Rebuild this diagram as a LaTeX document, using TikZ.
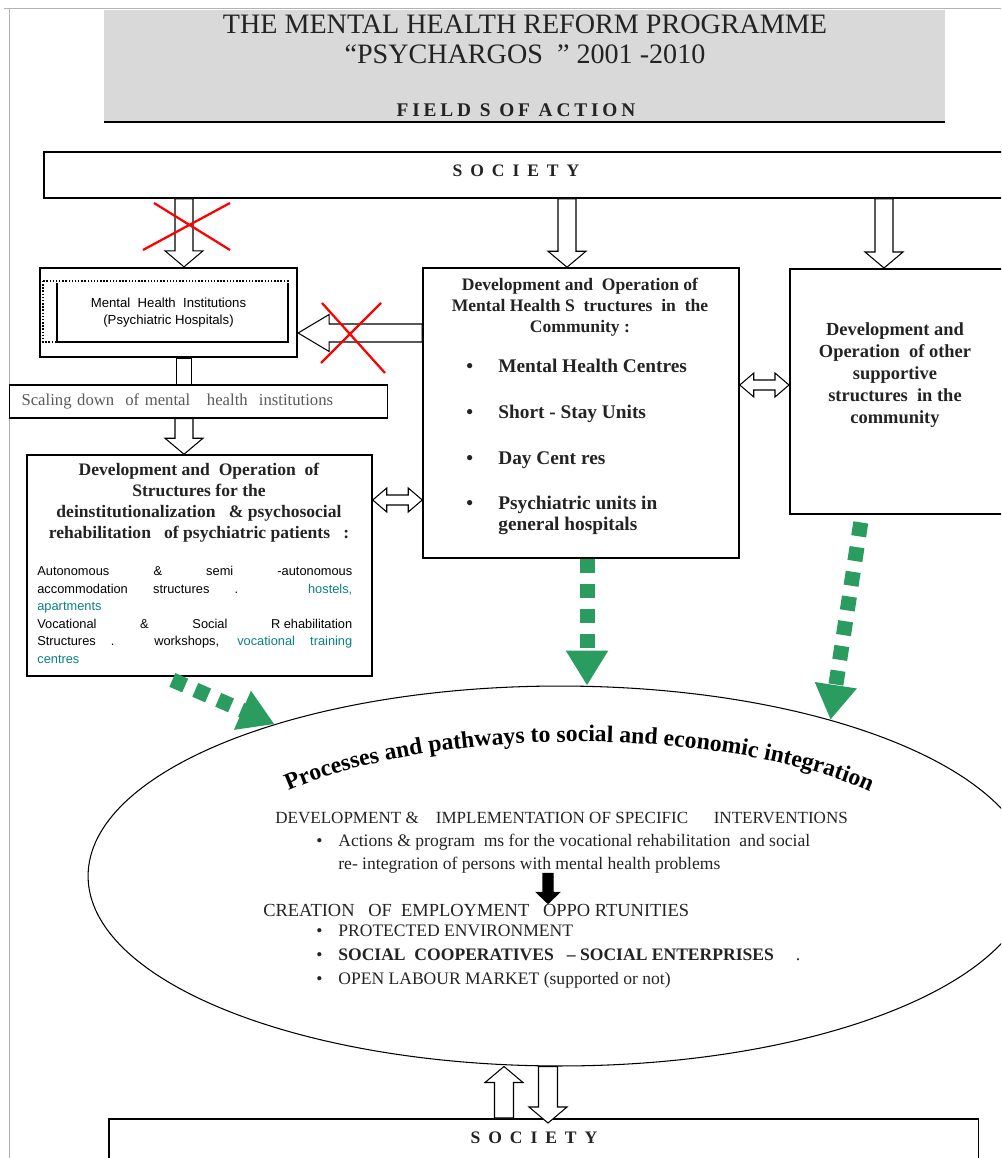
\documentclass[tikz,border=0pt]{standalone}
\usepackage{fontspec}
\setmainfont{Liberation Serif}
\newfontfamily\spacedserif[LetterSpace=20]{Liberation Serif}
\newfontfamily\smallsans{Liberation Sans}
\usetikzlibrary{calc,shapes.geometric,arrows.meta,decorations.text}

\definecolor{pgreen}{RGB}{42,156,96}
\definecolor{tealtxt}{RGB}{10,128,128}
\definecolor{inktxt}{RGB}{35,35,35}

\newcommand\bulitem[1]{\makebox[#1][l]{\textbullet}}

\tikzset{
  arr shaft/.store in=\arrshaft, arr head/.store in=\arrhead, arr len/.store in=\arrlen,
  arr shaft=1.8mm, arr head=3.8mm, arr len=3.2mm,
  % hollow block arrow, one head
  blockarr/.style={fill=white, line width=0.6pt, to path={
      ($(\tikztotarget)!\arrlen!(\tikztostart)$) coordinate (ba-m)
      ($(\tikztostart)!\arrshaft!90:(\tikztotarget)$)
      -- ($(ba-m)!\arrshaft!90:(\tikztotarget)$)
      -- ($(ba-m)!\arrhead!90:(\tikztotarget)$)
      -- (\tikztotarget)
      -- ($(ba-m)!\arrhead!-90:(\tikztotarget)$)
      -- ($(ba-m)!\arrshaft!-90:(\tikztotarget)$)
      -- ($(\tikztostart)!\arrshaft!-90:(\tikztotarget)$) -- cycle}},
  % hollow block arrow, two heads
  dblarr/.style={fill=white, line width=0.6pt, to path={
      ($(\tikztostart)!\arrlen!(\tikztotarget)$) coordinate (da-a)
      ($(\tikztotarget)!\arrlen!(\tikztostart)$) coordinate (da-b)
      (\tikztostart)
      -- ($(da-a)!\arrhead!90:(\tikztotarget)$)
      -- ($(da-a)!\arrshaft!90:(\tikztotarget)$)
      -- ($(da-b)!\arrshaft!90:(\tikztotarget)$)
      -- ($(da-b)!\arrhead!90:(\tikztotarget)$)
      -- (\tikztotarget)
      -- ($(da-b)!\arrhead!-90:(\tikztotarget)$)
      -- ($(da-b)!\arrshaft!-90:(\tikztotarget)$)
      -- ($(da-a)!\arrshaft!-90:(\tikztotarget)$)
      -- ($(da-a)!\arrhead!-90:(\tikztotarget)$) -- cycle}},
  panel/.style={draw, line width=0.9pt, inner sep=0pt},
  txt/.style={inner sep=0pt, text=inktxt},
  greenarr/.style={draw=pgreen, line width=3mm, dash pattern=on 2.8mm off 2.2mm,
      -{Triangle[length=7mm, width=8mm]}},
  redx/.style={red, line width=0.45mm},
  societytxt/.style={txt, font=\spacedserif\bfseries\fontsize{10}{12}\selectfont}
}

\begin{document}
\begin{tikzpicture}[x=0.02cm, y=-0.02cm]
\useasboundingbox (0,0) rectangle (1001,1158);
\clip (0,0) rectangle (1001,1158);

% page frame
\draw[gray!60, line width=0.4pt] (4,8) -- (1001,8) (9,8) -- (9,1158);

% title
\fill[gray!30] (104,10) rectangle (945,122);
\draw[line width=1.1pt] (104,122) -- (945,122);
\node[txt, font=\fontsize{16}{19}\selectfont] (title1) at (525,24) {THE MENTAL HEALTH REFORM PROGRAMME};
\node[txt, font=\fontsize{16}{19}\selectfont] (title2) at (525,54) {“PSYCHARGOS\ \ ” 2001 -2010};
\node[txt, font=\spacedserif\bfseries\fontsize{11}{13}\selectfont] (title3) at (516,110) {FIELD S OF ACTION};

% helper columns / rows
\coordinate (c184) at (184,0);
\coordinate (c567) at (567,0);
\coordinate (c884) at (884,0);
\coordinate (c587) at (587,0);
\coordinate (c862) at (862,0);
\coordinate (c165) at (165,0);
\coordinate (c504) at (504,0);
\coordinate (c548) at (548,0);
\coordinate (h333) at (0,333);
\coordinate (h385) at (0,385);
\coordinate (h500) at (0,500);

% society (top)
\node[panel, minimum width=20.2cm, minimum height=0.92cm, anchor=west] (soctop) at (43,175) {};
\node[societytxt] (soctoptxt) at (516,171) {S O C I E T Y};

% mental health institutions
\node[panel, line width=1.3pt, minimum width=5.14cm, minimum height=1.78cm, align=center,
      font=\smallsans\fontsize{7.5}{10}\selectfont] (inst) at (168.5,312.5)
      {Mental\ \ Health\ \ Institutions\\(Psychiatric Hospitals)};
\draw[densely dotted, line width=0.8pt] (43,281) rectangle (288,342);
\draw[line width=0.6pt] (57,283) -- (57,342) -- (288,342) -- (288,283);

% scaling down
\node[panel, line width=0.6pt, minimum width=7.58cm, minimum height=0.66cm, text width=7.2cm,
      align=left, font=\fontsize{9.5}{11}\selectfont, text=black!65] (scal) at (198.5,401.5)
      {\hspace*{0.6mm}Scaling down\ \ of mental\ \ \ health\ \ institutions};

% deinstitutionalization box
\node[panel, minimum width=6.9cm, minimum height=4.42cm] (deinst) at (199.5,565.5) {};
\node[txt, align=center, font=\bfseries\fontsize{10}{12}\selectfont] (deinsttitle) at (199,502.5)
      {Development and\ \ Operation\ \ of\\Structures for the\\deinstitutionalization\ \ \ \& psychosocial\\rehabilitation\ \ \ of psychiatric patients\ \ \ :};
\node[txt, text=black, anchor=north west, text width=6.3cm, align=justify,
      font=\smallsans\fontsize{7.3}{10}\selectfont] (deinstbody) at (37,566)
      {Autonomous \& semi -autonomous\linebreak
       accommodation structures . \textcolor{tealtxt}{hostels,}\linebreak
       \textcolor{tealtxt}{apartments}\\
       Vocational \& Social R\kern2pt ehabilitation\linebreak
       Structures . workshops, \textcolor{tealtxt}{vocational training}\linebreak
       \textcolor{tealtxt}{centres}};

% community structures
\node[panel, minimum width=6.32cm, minimum height=5.8cm] (comm) at (581,413) {};
\node[txt, align=center, font=\bfseries\fontsize{10}{12}\selectfont] (commtitle) at (580,307)
      {Development and\ \ Operation of\\Mental Health S\ \ tructures\ \ in\ \ the\\Community :};
\node[txt, anchor=north west, align=left, font=\bfseries\fontsize{11}{12}\selectfont] (commlist) at (466,359)
      {\bulitem{6.4mm}Mental Health Centres\\[14pt]
       \bulitem{6.4mm}Short - Stay Units\\[14pt]
       \bulitem{6.4mm}Day Cent res\\[14pt]
       \bulitem{6.4mm}Psychiatric units in\\
       \hspace*{6.4mm}general hospitals};

% other supportive structures
\node[panel, minimum width=5.3cm, minimum height=4.9cm, anchor=north west] (other) at (789,268) {};
\node[txt, align=center, font=\bfseries\fontsize{10.5}{12.5}\selectfont] (othertxt) at (895,375)
      {Development and\\Operation\ \ of other\\supportive\\structures\ \ in the\\community};

% processes and pathways
\node[draw, ellipse, line width=0.6pt, minimum width=18.88cm, minimum height=7.6cm, inner sep=0pt] (proc) at (560,876) {};
\path[decorate, decoration={text along path, text align=center,
      text={|\bfseries\fontsize{13.5}{15}\selectfont|Processes and pathways to social and economic integration}}]
      (268,801) arc[start angle=147, end angle=32.5, x radius=7.4cm, y radius=2.6cm];
\node[txt, anchor=west, font=\fontsize{9.7}{12}\selectfont] (devint) at (275,818)
      {DEVELOPMENT \&\ \ \ \ IMPLEMENTATION OF SPECIFIC\ \ \ \ \ \ INTERVENTIONS};
\node[txt, anchor=west, align=left, font=\fontsize{10}{13}\selectfont] (actions) at (316,853.5)
      {\bulitem{4.4mm}Actions \& program\ \ ms for the vocational rehabilitation\ \ and social\\
       \hspace*{4.4mm}re- integration of persons with mental health problems};
\node[txt, anchor=west, font=\fontsize{10.5}{12}\selectfont] (creat) at (263,910)
      {CREATION\ \ \ OF\ \ EMPLOYMENT\ \ \ OPPO RTUNITIES};
\node[txt, anchor=west, align=left, font=\fontsize{10}{13.8}\selectfont] (jobs) at (316,956.5)
      {\bulitem{4.4mm}PROTECTED ENVIRONMENT\\
       \bulitem{4.4mm}\textbf{SOCIAL\ \ COOPERATIVES\ \ \ -- SOCIAL ENTERPRISES}\ \ \ \ \ .\\
       \bulitem{4.4mm}OPEN LABOUR MARKET (supported or not)};

% society (bottom)
\node[panel, minimum width=17.4cm, minimum height=2cm, anchor=north west] (socbot) at (108,1118) {};
\node[societytxt] (socbottxt) at (534,1138) {S O C I E T Y};

% block arrows
\draw[blockarr] (soctop.south -| c184) to (inst.north -| c184);
\draw[blockarr] (soctop.south -| c567) to (comm.north -| c567);
\draw[blockarr] (soctop.south -| c884) to (other.north -| c884);
\draw[blockarr, arr len=6.2mm, arr head=3.7mm] (comm.west |- h333) to (inst.east |- h333);
\draw[fill=white, line width=0.6pt] ($(inst.south -| c184)+(-7.5,0)$) rectangle ($(scal.north -| c184)+(7.5,0)$);
\draw[blockarr] (scal.south -| c184) to (deinst.north -| c184);
\draw[dblarr, arr shaft=1mm, arr head=2.4mm, arr len=2.8mm] (deinst.east |- h500) to (comm.west |- h500);
\draw[dblarr, arr shaft=1mm, arr head=2.4mm, arr len=2.8mm] (comm.east |- h385) to (other.west |- h385);
\draw[blockarr, fill=black, arr shaft=1mm, arr head=2.3mm, arr len=2.2mm] (actions.south -| c548) to (creat.north -| c548);
\draw[blockarr, arr shaft=1.9mm] (socbot.north -| c504) to (proc.south -| c504);
\draw[blockarr, arr shaft=1.9mm] (proc.south -| c548) to ($(socbot.north -| c548)+(0,5)$);

% crossed out
\coordinate (x1) at (187,226);
\coordinate (x2) at (352,336);
\draw[redx] (x1) +(-33,-23) -- +(43,24) (x1) +(-44,24) -- +(43,-23);
\draw[redx] (x2) +(-30,-33) -- +(33,37) (x2) +(-31,27) -- +(29,-33);

% green dashed arrows
\draw[greenarr] (comm.south -| c587) -- (proc.north -| c587);
\draw[greenarr, shorten <=1.6mm] (other.south -| c862) -- (proc.30);
\draw[greenarr, shorten <=1.6mm] (deinst.south -| c165) -- (proc.152);
\end{tikzpicture}
\end{document}
